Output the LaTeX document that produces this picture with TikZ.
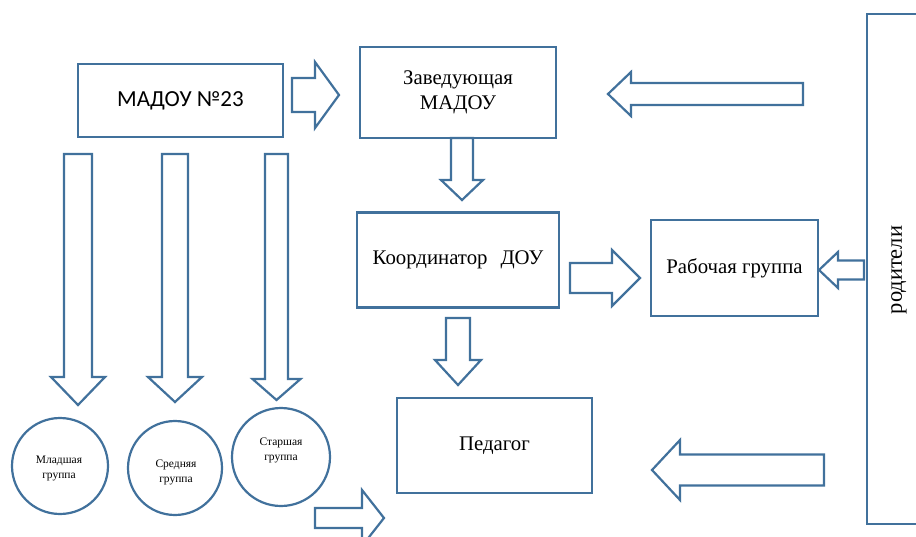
\documentclass[tikz,border=0pt]{standalone}
\usepackage{fontspec}
\setmainfont{Liberation Serif}
\newfontfamily\calibrifont{Carlito}
\definecolor{edge}{HTML}{41719C}
\newcommand\arrowH[6]{% tail x, tip x, center y, shaft half, head half, head length (signed)
  \draw[blk] ({#1},{#3-(#4)}) -- ({#2-(#6)},{#3-(#4)}) -- ({#2-(#6)},{#3-(#5)}) -- ({#2},{#3}) -- ({#2-(#6)},{#3+(#5)}) -- ({#2-(#6)},{#3+(#4)}) -- ({#1},{#3+(#4)}) -- cycle;}
\newcommand\arrowV[6]{% center x, tail y, tip y, shaft half, head half, head length (signed)
  \draw[blk] ({#1-(#4)},{#2}) -- ({#1-(#4)},{#3-(#6)}) -- ({#1-(#5)},{#3-(#6)}) -- ({#1},{#3}) -- ({#1+(#5)},{#3-(#6)}) -- ({#1+(#4)},{#3-(#6)}) -- ({#1+(#4)},{#2}) -- cycle;}
\begin{document}
\begin{tikzpicture}[x=1pt,y=-1pt,
  blk/.style={draw=edge, line width=2.2pt, line join=miter, fill=white},
  box/.style={draw=edge, line width=2.2pt, fill=white, inner sep=0pt, align=center,
    font=\fontsize{20.8}{25}\selectfont},
  circ/.style={draw=edge, line width=2.2pt, circle, inner sep=0pt},
  small/.style={align=center, font=\fontsize{11.5}{15}\selectfont, inner sep=0pt}]
\useasboundingbox (0,0) rectangle (916,536);
\clip (0,0) rectangle (916,536);
\fill[white] (0,0) rectangle (916,536);

% boxes
\node[box, minimum width=205pt, minimum height=73pt, font=\calibrifont\fontsize{23}{27}\selectfont] (madou) at (180.5,100.5) {МАДОУ №23};
\node[box, minimum width=196pt, minimum height=91pt] (zav) at (458,92.5) {Заведующая\\МАДОУ};
\node[box, minimum width=202pt, minimum height=95pt] (koord) at (458,260) {\raisebox{-7pt}{Координатор\hspace{13pt}ДОУ}};
\node[box, minimum width=167pt, minimum height=96pt] (rab) at (734.5,268) {Рабочая группа};
\node[box, minimum width=195pt, minimum height=95pt] (ped) at (494.5,445.5) {Педагог};
\draw[draw=edge, line width=2.2pt] (940,14) -- (867,14) -- (867,524) -- (940,524);
\node[rotate=90, font=\fontsize{22.5}{26}\selectfont, inner sep=0pt] (rod) at (899,270) {родители};

% circles
\node[circ, minimum size=96pt] (c1) at (60,466) {};
\node[circ, minimum size=94pt] (c2) at (175,468) {};
\node[circ, minimum size=98pt] (c3) at (281,457) {};
\node[small] (t1) at (59,468) {Младшая\\группа};
\node[small] (t2) at (176,472) {Средняя\\группа};
\node[small] (t3) at (281,450) {Старшая\\группа};

% block arrows
\arrowH{292}{339}{95}{17}{33}{24}
\arrowH{803}{608}{94}{11}{22}{-23}
\arrowV{462}{138}{200}{11}{21}{20}
\arrowH{570}{640}{278}{15}{28}{28}
\arrowH{864}{819}{270}{9.5}{18}{-19}
\arrowV{458}{318}{385}{12}{23}{25}
\arrowH{824}{652}{470}{15.5}{30}{-28}
\arrowV{78}{154}{405}{14}{27}{28}
\arrowV{175}{154}{402}{13}{27}{25}
\arrowV{276.5}{154}{400}{11.5}{24}{21}
\arrowH{315}{384}{518}{10}{28}{22}
\end{tikzpicture}
\end{document}
